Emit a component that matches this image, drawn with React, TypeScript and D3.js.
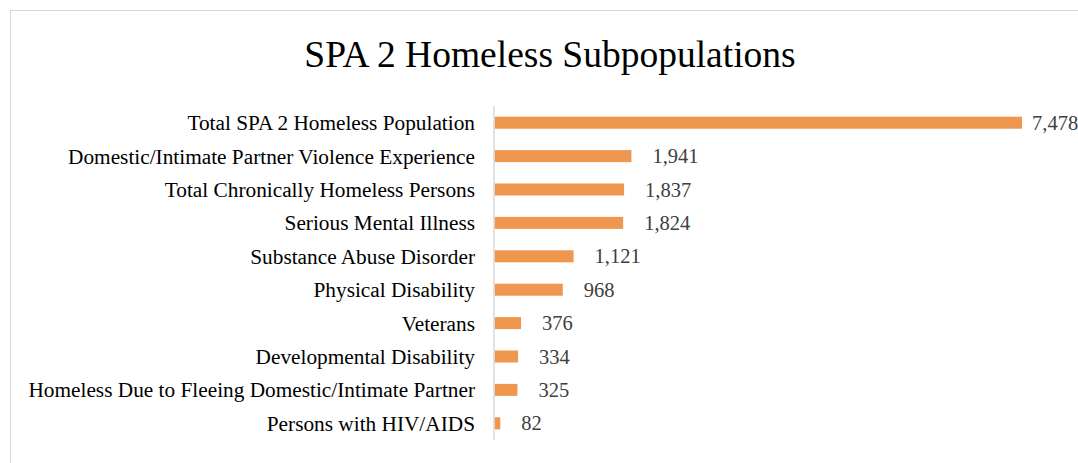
import React from "react";
import * as d3 from "d3";

// categories, top to bottom
const categories = [
  "Total SPA 2 Homeless Population",
  "Domestic/Intimate Partner Violence Experience",
  "Total Chronically Homeless Persons",
  "Serious Mental Illness",
  "Substance Abuse Disorder",
  "Physical Disability",
  "Veterans",
  "Developmental Disability",
  "Homeless Due to Fleeing Domestic/Intimate Partner",
  "Persons with HIV/AIDS",
];
const counts = [7478, 1941, 1837, 1824, 1121, 968, 376, 334, 325, 82];
const title = "SPA 2 Homeless Subpopulations";

const W = 1078;
const H = 463;
const FONT = "'Liberation Serif', 'Times New Roman', serif";

export default function App() {
  const x = d3.scaleLinear().domain([0, 7478]).range([494.5, 1022]);
  const y = d3.scaleBand().domain(categories).range([106, 440]).paddingInner(0.64).paddingOuter(0.32);
  const fmt = d3.format(",");

  return (
    <svg width={W} height={H} style={{ position: "absolute", left: 0, top: 0, background: "#fff" }}>
      <rect x={10.5} y={10.5} width={1200} height={600} fill="#fff" stroke="#d9d9d9" />
      <text x={550} y={66.5} textAnchor="middle" fontFamily={FONT} fontSize={37.5} fill="#000">
        {title}
      </text>
      {categories.map((c, i) => {
        const yc = (y(c) as number) + y.bandwidth() / 2;
        const lx = Math.min(x(counts[i]) + 21, W - 46);
        return (
          <g key={c}>
            <rect x={x(0)} y={y(c)} width={x(counts[i]) - x(0)} height={y.bandwidth()} fill="#f0974f" />
            <text x={475} y={yc} dy="0.35em" textAnchor="end" fontFamily={FONT} fontSize={21.3} fill="#000">
              {c}
            </text>
            <text x={lx} y={yc} dy="0.35em" fontFamily={FONT} fontSize={20.5} fill="#404040">
              {fmt(counts[i])}
            </text>
          </g>
        );
      })}
      <line x1={494} x2={494} y1={106} y2={440} stroke="#d9d9d9" strokeWidth={1.5} />
    </svg>
  );
}
